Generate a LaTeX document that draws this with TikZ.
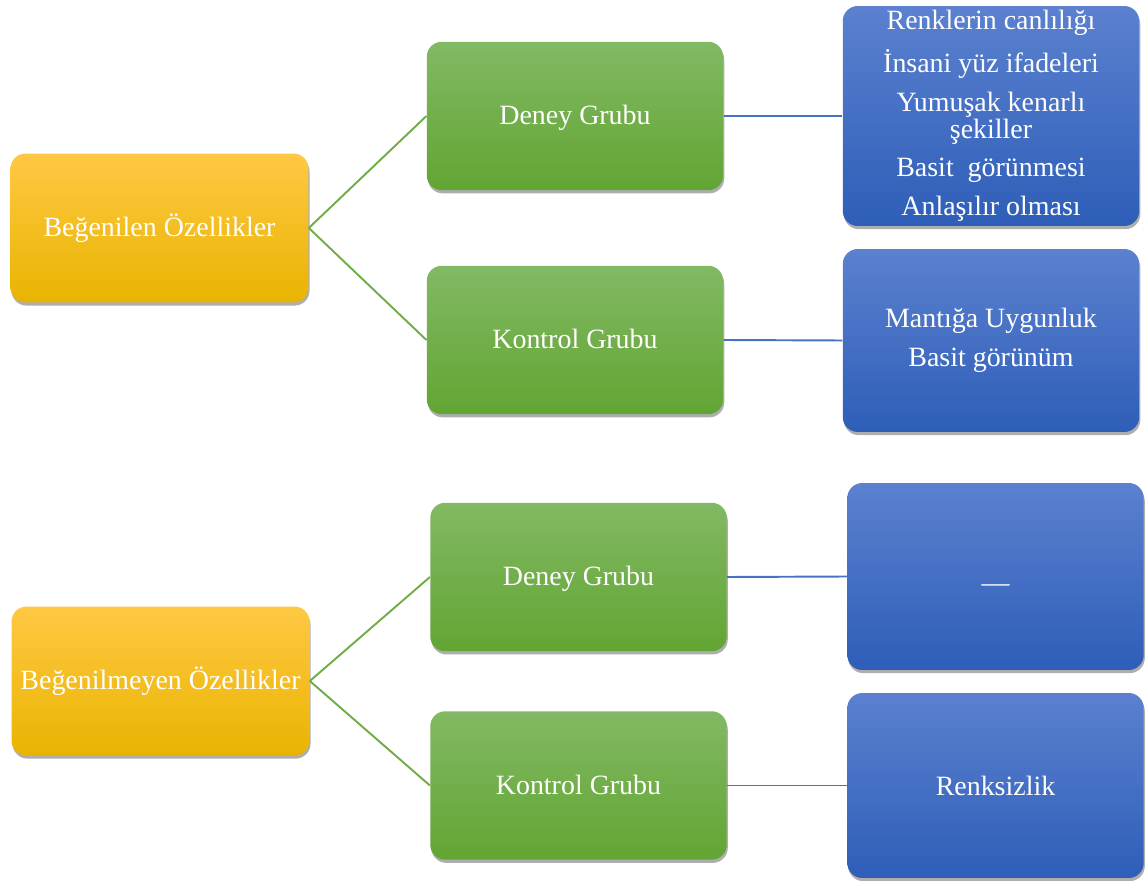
\documentclass[tikz,border=0pt]{standalone}
\usepackage{fontspec}
\setmainfont{Liberation Serif}
\usetikzlibrary{shadows}

\definecolor{sariust}{HTML}{FFC844}
\definecolor{sarialt}{HTML}{E9B400}
\definecolor{yesilust}{HTML}{82B963}
\definecolor{yesilalt}{HTML}{62A533}
\definecolor{maviust}{HTML}{5B81CF}
\definecolor{mavialt}{HTML}{2E5EB8}
\definecolor{yesilcizgi}{HTML}{70AD47}
\definecolor{mavicizgi}{HTML}{4472C4}

\tikzset{
  kutu/.style = {rectangle, rounded corners = 0.3cm, text = white, align = center,
    inner sep = 0pt, font = \fontsize{15.9}{15.4}\selectfont,
    drop shadow = {shadow xshift = 0.6pt, shadow yshift = -1.8pt, opacity = 0.45, fill = black!70}},
  ozellik/.style = {kutu, minimum width = 5.96cm, minimum height = 2.98cm,
    top color = sariust, middle color = sariust!40!sarialt, bottom color = sarialt},
  grup/.style = {kutu, minimum width = 5.93cm, minimum height = 2.97cm,
    text height = 13.2pt, text depth = 3.5pt,
    top color = yesilust, bottom color = yesilalt},
  sonuc/.style = {kutu, minimum width = 5.93cm, top color = maviust, bottom color = mavialt},
  yesilbag/.style = {draw = yesilcizgi, line width = 1.1pt},
  mavibag/.style = {draw = mavicizgi, line width = 1.1pt}
}

\begin{document}
\begin{tikzpicture}[x = 0.02cm, y = -0.02cm]
        \useasboundingbox (0, 0) rectangle (1146, 881);

        \node[ozellik] (begenilen) at (159.5, 228) {Beğenilen Özellikler};
        \node[grup] (deney1) at (575, 116) {Deney Grubu};
        \node[grup] (kontrol1) at (575, 340) {Kontrol Grubu};
        \node[sonuc, minimum height = 4.4cm] (sonuc1) at (991, 116)
          {Renklerin canlılığı\\[6.6pt] İnsani yüz ifadeleri\\[6.6pt]
           Yumuşak kenarlı\\ şekiller\\[6.6pt] Basit~ görünmesi\\[6.6pt] Anlaşılır olması};
        \node[sonuc, minimum height = 3.66cm] (sonuc2) at (991, 340.5)
          {Mantığa Uygunluk\\[6.6pt] Basit görünüm};

        \node[ozellik] (begenilmeyen) at (160.5, 681) {Beğenilmeyen Özellikler};
        \node[grup] (deney2) at (578.5, 577) {Deney Grubu};
        \node[grup] (kontrol2) at (578.5, 785.5) {Kontrol Grubu};
        \node[sonuc, minimum height = 3.74cm] (sonuc3) at (995.5, 576.5) {\vphantom{Ag}\_\_};
        \node[sonuc, minimum height = 3.7cm] (sonuc4) at (995.5, 785.5) {Renksizlik};

        \draw[yesilbag] (begenilen.east) -- (deney1.west);
        \draw[yesilbag] (begenilen.east) -- (kontrol1.west);
        \draw[yesilbag] (begenilmeyen.east) -- (deney2.west);
        \draw[yesilbag] (begenilmeyen.east) -- (kontrol2.west);

        \draw[mavibag] (deney1.east) -- (sonuc1.west);
        \draw[mavibag] (kontrol1.east) -- (sonuc2.west);
        \draw[mavibag] (deney2.east) -- (sonuc3.west);
        \draw[mavibag] (kontrol2.east) -- (sonuc4.west);
      \end{tikzpicture}
\end{document}
